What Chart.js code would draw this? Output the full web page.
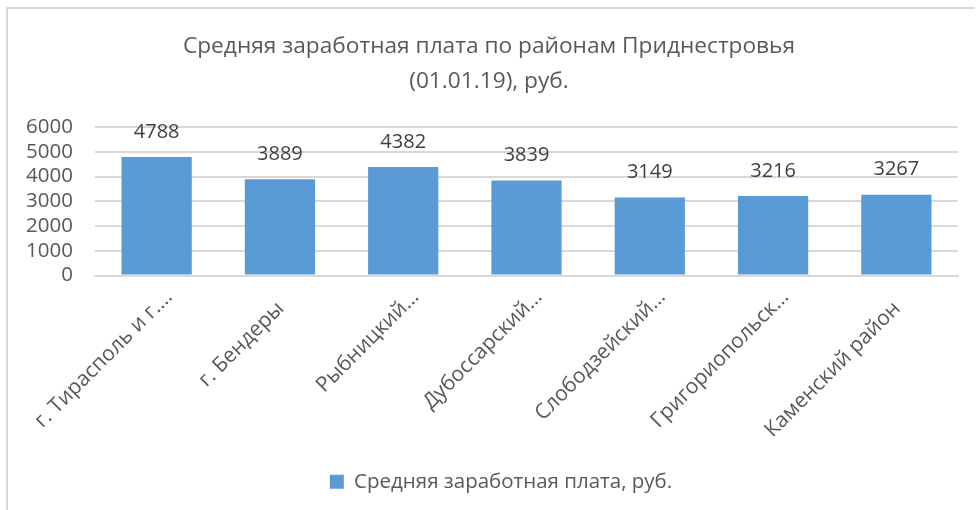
<!DOCTYPE html>
<html>
<head>
<meta charset="utf-8">
<script src="https://cdn.jsdelivr.net/npm/chart.js@4.4.0/dist/chart.umd.min.js"></script>
<style>
  html, body { margin: 0; padding: 0; background: #fff; }
  canvas { display: block; }
</style>
</head>
<body>
<canvas id="chart" width="977" height="510"></canvas>
<script>
// данные
const districts = [
  'г. Тирасполь и г.…',
  'г. Бендеры',
  'Рыбницкий…',
  'Дубоссарский…',
  'Слободзейский…',
  'Григориопольск…',
  'Каменский район'
];
const wages = [4788, 3889, 4382, 3839, 3149, 3216, 3267];
const seriesName = 'Средняя заработная плата, руб.';
const titleLines = ['Средняя заработная плата по районам Приднестровья', '(01.01.19), руб.'];
const yMax = 6000;
const yStep = 1000;

const textColor = '#595959';
const barColor = '#5B9BD5';
const gridColor = '#d9d9d9';
const font = '"Open Sans", "DejaVu Sans", sans-serif';

// рамка диаграммы (видны только левая и верхняя линии)
const framePlugin = {
  id: 'frame',
  beforeDraw(chart) {
    const ctx = chart.ctx;
    ctx.save();
    ctx.strokeStyle = '#d9d9d9';
    ctx.lineWidth = 2;
    ctx.beginPath();
    ctx.moveTo(7, 510);
    ctx.lineTo(7, 8);
    ctx.lineTo(975, 8);
    ctx.stroke();
    ctx.restore();
  }
};

// подписи значений над столбцами
const valueLabels = {
  id: 'valueLabels',
  afterDatasetsDraw(chart) {
    const ctx = chart.ctx;
    const meta = chart.getDatasetMeta(0);
    ctx.save();
    ctx.fillStyle = '#404040';
    ctx.font = '20px ' + font;
    ctx.textAlign = 'center';
    ctx.textBaseline = 'middle';
    meta.data.forEach((bar, i) => {
      ctx.fillText(String(wages[i]), bar.x, bar.y - 25);
    });
    ctx.restore();
  }
};

// повёрнутые подписи категорий (как в Excel: многоточие выходит за точку привязки)
const categoryLabels = {
  id: 'categoryLabels',
  afterDraw(chart) {
    const ctx = chart.ctx;
    const xs = chart.scales.x;
    ctx.save();
    ctx.fillStyle = textColor;
    ctx.font = '21px ' + font;
    ctx.textAlign = 'right';
    ctx.textBaseline = 'alphabetic';
    const ell = ctx.measureText('…').width;
    districts.forEach((label, i) => {
      const x = xs.getPixelForTick(i);
      ctx.save();
      ctx.translate(x + 5, xs.top + 34);
      ctx.rotate(-Math.PI / 4);
      ctx.fillText(label, label.endsWith('…') ? ell : 0, 0);
      ctx.restore();
    });
    ctx.restore();
  }
};

// сдвиг легенды вправо, как на образце
const legendShift = {
  id: 'legendShift',
  afterLayout(chart) {
    if (chart.legend) {
      chart.legend.left += 12;
      chart.legend.right += 12;
    }
  }
};

new Chart(document.getElementById('chart'), {
  type: 'bar',
  data: {
    labels: districts,
    datasets: [{
      label: seriesName,
      data: wages,
      backgroundColor: barColor,
      borderWidth: 0,
      barPercentage: 0.57,
      categoryPercentage: 1
    }]
  },
  options: {
    responsive: false,
    animation: false,
    layout: { padding: { top: 12, right: 19, bottom: 8, left: 20 } },
    plugins: {
      title: {
        display: true,
        text: titleLines,
        color: textColor,
        font: { family: font, size: 22.7, weight: 'normal', lineHeight: '35px' },
        padding: { top: 17, bottom: 28 }
      },
      legend: {
        display: true,
        position: 'bottom',
        labels: {
          color: textColor,
          font: { family: font, size: 20.5 },
          boxWidth: 14,
          boxHeight: 14,
          padding: 10
        }
      },
      tooltip: { enabled: false }
    },
    scales: {
      y: {
        min: 0,
        max: yMax,
        ticks: {
          stepSize: yStep,
          autoSkip: false,
          color: textColor,
          font: { family: font, size: 20.5 },
          padding: 22,
          callback: (v) => String(v)
        },
        grid: { color: gridColor, lineWidth: 2, drawTicks: false },
        border: { display: false },
        afterFit(scale) { scale.width = 75; }
      },
      x: {
        ticks: { display: false },
        grid: { display: false, drawTicks: false },
        border: { display: true, color: gridColor, width: 2 },
        afterFit(scale) { scale.height = 186; }
      }
    }
  },
  plugins: [framePlugin, valueLabels, categoryLabels, legendShift]
});
</script>
</body>
</html>
